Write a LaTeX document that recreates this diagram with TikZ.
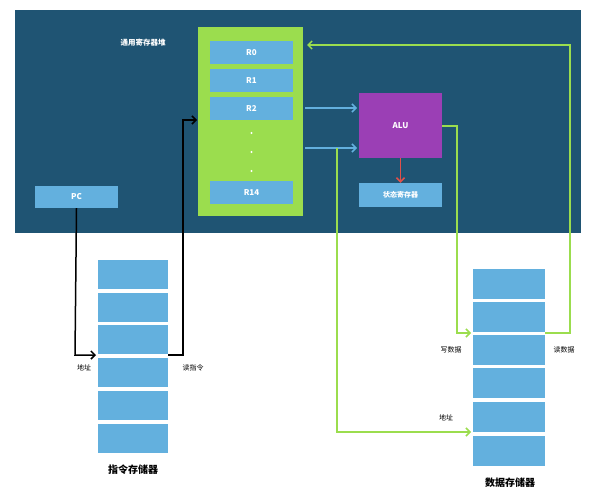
\documentclass[tikz,border=0pt]{standalone}
\usepackage{fontspec}
\setmainfont{Noto Sans CJK SC}
\usetikzlibrary{arrows.meta}
\definecolor{panelbg}{HTML}{1F5473}
\definecolor{cellblue}{HTML}{63B0DE}
\definecolor{regreen}{HTML}{9BDD4E}
\definecolor{alupurple}{HTML}{9B3FB5}
\definecolor{flagred}{HTML}{E0504A}
\tikzset{>={Straight Barb[length=4pt,width=8pt]},
  reg/.style={fill=cellblue, text=white, font=\bfseries\fontsize{8}{10}\selectfont},
  cell/.style={fill=cellblue, draw=white, line width=0.6pt},
  bus/.style={line width=1.5pt},
  lbl/.style={font=\fontsize{7}{9}\selectfont},
}
\begin{document}
\begin{tikzpicture}[x=1pt,y=-1pt]
    \useasboundingbox (0,0) rectangle (600,500);
    \fill [panelbg] (15,10) rectangle (581,233);
    \node [font=\bfseries\fontsize{7.5}{9}\selectfont, text=white] (rftitle) at (143,43) {通用寄存器堆};
    \fill [regreen] (198,27) rectangle (303,216);
    \node [reg, minimum width=83pt, minimum height=23pt] (r0) at (251.5,52.5) {R0};
    \node [reg, minimum width=83pt, minimum height=23pt] (r1) at (251.5,80.5) {R1};
    \node [reg, minimum width=83pt, minimum height=23pt] (r2) at (251.5,108.5) {R2};
    \node [reg, minimum width=83pt, minimum height=23pt] (r14) at (251.5,192.5) {R14};
    \foreach \y in {133,152,171}
      \fill [white] (251.5,\y) circle (1.2pt);
    \node [fill=alupurple, text=white, font=\bfseries\fontsize{8}{10}\selectfont,
      minimum width=83pt, minimum height=65pt] (alu) at (400.5,125.5) {ALU};
    \node [reg, font=\bfseries\fontsize{7}{9}\selectfont, minimum width=83pt, minimum height=24pt] (flags) at (400.5,195) {状态寄存器};
    \node [fill=cellblue, text=white, font=\bfseries\fontsize{8}{10}\selectfont,
      minimum width=83pt, minimum height=22pt] (pc) at (76.5,197) {PC};
    \draw [->, bus, flagred] (alu.south) -- (flags.north);
    \draw [->, bus, cellblue] (305,108) -- (357,108);
    \draw [->, bus, cellblue] (305,148) -- (357,148);
    % instruction memory
    \foreach \i/\y in {1/259,2/292,3/324,4/357,5/390,6/423}
      \draw [cell] (97,\y) rectangle (168,\y+30) coordinate (im\i);
    \node [font=\bfseries\fontsize{10}{12}\selectfont] (imname) at (133,470) {指令存储器};
    % data memory
    \foreach \i/\y in {1/268,2/301,3/334,4/367,5/401,6/435}
      \draw [cell] (472,\y) rectangle (545,\y+31) coordinate (dm\i);
    \node [font=\bfseries\fontsize{10}{12}\selectfont] (dmname) at (510,483) {数据存储器};
    % buses
    \draw [->, bus, black] (pc.south) -- (75,355) -- (96,355);
    \node [lbl] (iaddr) at (84,368) {地址};
    \draw [->, bus, black] (168,355) -- (183,355) -- (183,120) -- (197,120);
    \node [lbl] (iread) at (193,368) {读指令};
    \draw [->, bus, regreen] (alu.east |- 0,126) -- (457,126) -- (457,333) -- (471,333);
    \node [lbl] (dwrite) at (451,350) {写数据};
    \draw [->, bus, regreen] (545,333) -- (570,333) -- (570,45) -- (307,45);
    \node [lbl] (dread) at (564,350) {读数据};
    \draw [->, bus, regreen] (337,148) -- (337,432) -- (471,432);
    \node [lbl] (daddr) at (446,418) {地址};
\end{tikzpicture}
\end{document}
